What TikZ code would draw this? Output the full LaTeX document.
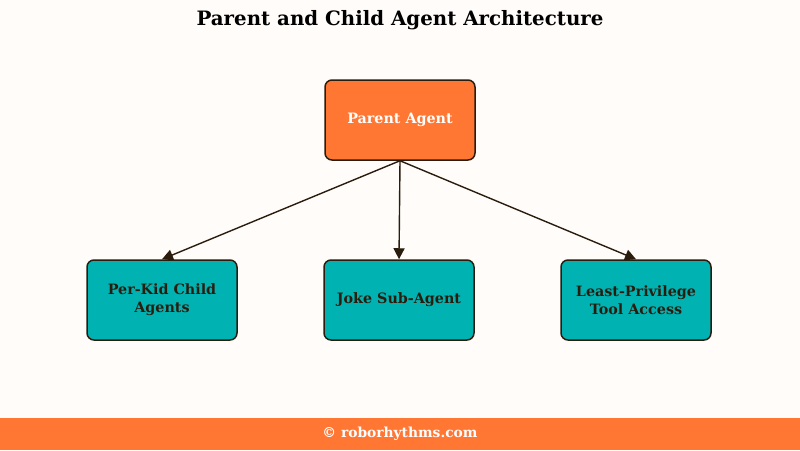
\documentclass[tikz,border=0pt]{standalone}
\usepackage{fontspec}
\setmainfont{DejaVu Serif}
\usetikzlibrary{arrows.meta}
\definecolor{bg}{HTML}{FFFCFA}
\definecolor{org}{HTML}{FF7733}
\definecolor{teal}{HTML}{00B2B2}
\definecolor{edge}{HTML}{2B1D0E}
\begin{document}
\begin{tikzpicture}[x=1pt,y=-1pt,
  box/.style={draw=edge,line width=1.5pt,rounded corners=7pt,minimum width=150pt,minimum height=80pt,align=center,font=\bfseries\fontsize{14.3}{18}\selectfont,inner sep=2pt},
  arr/.style={draw=edge,line width=1.4pt,-{Triangle[length=11pt,width=11pt]}}]
\useasboundingbox (0,0) rectangle (800,450);
\fill[bg] (0,0) rectangle (800,450);
\fill[org] (0,418) rectangle (800,450);
\node (title) at (400,20) {\bfseries\fontsize{19.8}{23}\selectfont Parent and Child Agent Architecture};
\node[box,fill=org,text=white] (p) at (400,120) {Parent Agent};
\node[box,fill=teal,text=edge] (c1) at (162,300) {Per-Kid Child\\Agents};
\node[box,fill=teal,text=edge] (c2) at (399,300) {Joke Sub-Agent};
\node[box,fill=teal,text=edge] (c3) at (636,300) {Least-Privilege\\Tool Access};
\draw[arr] (p.south) -- (c1.north);
\draw[arr] (p.south) -- (c2.north);
\draw[arr] (p.south) -- (c3.north);
\node[text=white] (foot) at (400,434) {\bfseries\fontsize{13.8}{16}\selectfont © roborhythms.com};
\end{tikzpicture}
\end{document}
